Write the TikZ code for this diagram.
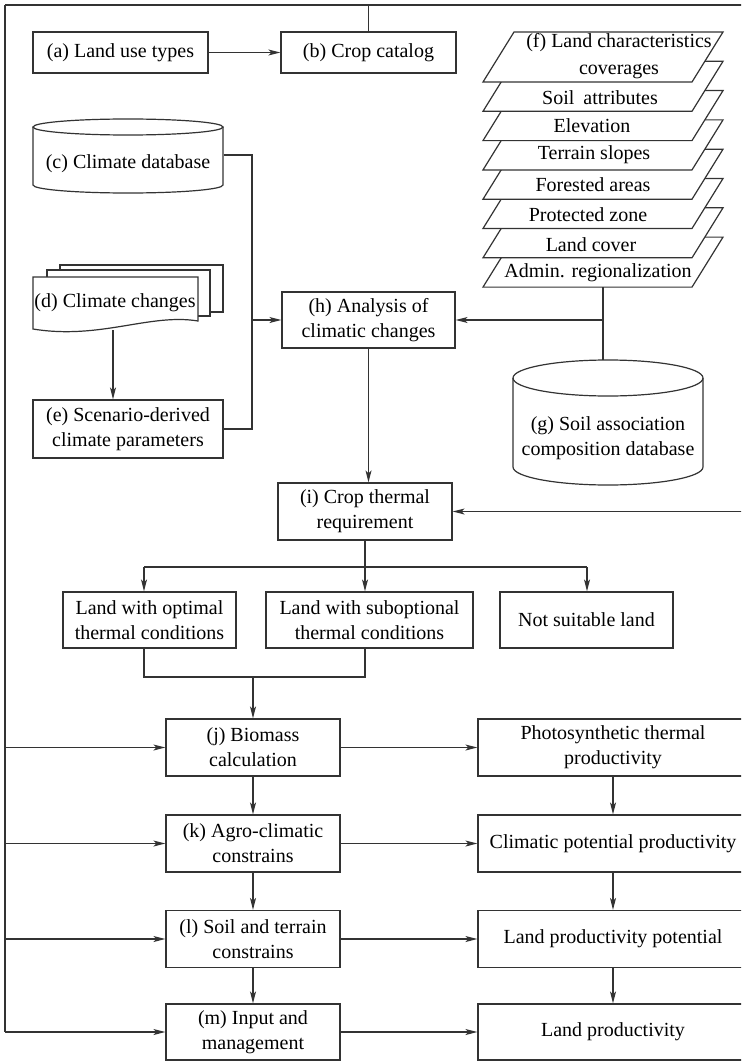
\documentclass[tikz,border=0pt]{standalone}
\usepackage{fontspec}
\setmainfont{Liberation Serif}
\usetikzlibrary{arrows.meta}
\begin{document}
\begin{tikzpicture}[x=1pt,y=-1pt,
  line width=1.2pt, color=black!80,
  every node/.style={text=black, font=\fontsize{20}{25}\selectfont, inner sep=0pt, align=center},
  box/.style={draw, fill=white, minimum height=57pt},
  arr/.style={-{Stealth[length=12pt,width=6pt,inset=3pt]}},
  layer/.style={draw, fill=white},
]
\useasboundingbox (0,0) rectangle (741,1062);
\fill[white] (0,0) rectangle (741,1062);
\clip (0,0) rectangle (741,1062);

% ---- top row
\node[box, minimum width=175pt, minimum height=41pt] (a) at (120.5,52.5) {(a) Land use types};
\node[box, minimum width=175pt, minimum height=41pt] (b) at (368.5,52.5) {(b) Crop catalog};

% ---- climate database (cylinder)
\draw[fill=white] (33,127) -- (33,185) arc[start angle=180,end angle=360,x radius=95pt,y radius=8pt] -- (223,127);
\draw (128,127) ellipse[x radius=95pt,y radius=8pt];
\node[minimum width=190pt, minimum height=58pt] (c) at (128,164) {(c) Climate database};

% ---- climate changes (stacked documents)
\draw[fill=white] (60,265) rectangle (223,312);
\draw[fill=white] (47,270) rectangle (210,316);
\draw[fill=white] (33,277) -- (198,277) -- (198,321) .. controls (150,313) and (100,340) .. (33,329) -- cycle;
\node[minimum width=165pt] (d) at (115,303) {(d) Climate changes};
\coordinate (db) at (113,330);

\node[box, minimum width=190pt, minimum height=58pt] (e) at (128,429) {(e) Scenario-derived\\climate parameters};

% ---- land characteristics layers
\foreach \k in {7,6,...,0} {
  \pgfmathsetmacro{\t}{32+29.3*\k}
  \path[layer] (483,\t+50) -- (692,\t+50) -- (723,\t) -- (514,\t) -- cycle;
}
\node[font=\fontsize{20}{27}\selectfont] (f0) at (619,56.5) {(f) Land characteristics\\coverages};
\node (f1) at (600,98) {Soil\hspace{0.45em}attributes};
\node (f2) at (592,126) {Elevation};
\node (f3) at (594,155) {Terrain slopes};
\node (f4) at (593,185) {Forested areas};
\node (f5) at (588,215) {Protected zone};
\node (f6) at (591,245) {Land cover};
\node (f7) at (598,273) {Admin. regionalization};
\coordinate (fb) at (603,287);
\coordinate (fh) at (603,320);
\coordinate (gt) at (603,360.1);

% ---- soil database (cylinder)
\draw[fill=white] (513,378) -- (513,467) arc[start angle=180,end angle=360,x radius=95pt,y radius=18pt] -- (703,378);
\draw (608,378) ellipse[x radius=95pt,y radius=18pt];
\node (g) at (608,438.5) {(g) Soil association\\composition database};

% ---- analysis and thermal requirement
\node[box, minimum width=173pt, minimum height=56pt] (h) at (368.5,320) {(h) Analysis of\\climatic changes};
\node[box, minimum width=174pt] (i) at (365,511.5) {(i) Crop thermal\\requirement};

\node[box, minimum width=173pt, minimum height=56pt] (o1) at (149.5,620) {Land with optimal\\thermal conditions};
\node[box, minimum width=207pt, minimum height=56pt] (o2) at (369.5,620) {Land with suboptional\\thermal conditions};
\node[box, minimum width=173pt, minimum height=56pt] (o3) at (586.5,620) {Not suitable land};

% ---- productivity chain
\node[box, minimum width=174pt] (j) at (253,747.5) {(j) Biomass\\calculation};
\node[box, minimum width=174pt] (k) at (253,843.5) {(k) Agro-climatic\\constrains};
\node[box, minimum width=174pt] (l) at (253,939) {(l) Soil and terrain\\constrains};
\node[box, minimum width=174pt, minimum height=56pt] (m) at (253,1032) {(m) Input and\\management};

\node[box, minimum width=270pt] (p1) at (613,747.5) {Photosynthetic thermal\\productivity};
\node[box, minimum width=270pt] (p2) at (613,843.5) {Climatic potential productivity};
\node[box, minimum width=270pt] (p3) at (613,939) {Land productivity potential};
\node[box, minimum width=270pt, minimum height=56pt] (p4) at (613,1032) {Land productivity};

% ---- frame lines
\coordinate (TL) at (5,5);
\coordinate (TR) at (770,5);
\coordinate (BL) at (5,1032);
\draw (TL) -- (TR);
\draw (b.north) -- (b.north |- TL);
\draw[arr] (TR) |- (i.east);
\draw (TL) -- (BL);
\draw[arr] (BL) -- (m.west);
\foreach \n in {j,k,l} \draw[arr] (TL |- \n.west) -- (\n.west);

% ---- connectors
\draw[arr] (a) -- (b);
\coordinate (mc) at (252,320);
\draw ([yshift=9pt]c.east) -| (mc);
\draw (e.east) -| (mc);
\draw[arr] (mc) -- (h.west);
\draw[arr] (db) -- (db |- e.north);
\draw (fb) -- (gt);
\draw[arr] (fh) -- (h.east);
\draw[arr] (h.south) -- (h.south |- i.north);

\coordinate (brL) at (144,567);
\coordinate (brR) at (587,567);
\draw[arr] (i.south) -- (i.south |- o2.north);
\draw (brL) -- (brR);
\draw[arr] (brL) -- (brL |- o1.north);
\draw[arr] (brR) -- (brR |- o3.north);

\coordinate (jn) at (253,677);
\draw (brL |- o1.south) -- (brL |- jn) -- (i.south |- jn) -- (i.south |- o2.south);
\draw[arr] (jn) -- (j.north);

\draw[arr] (j) -- (k);
\draw[arr] (k) -- (l);
\draw[arr] (l) -- (m);
\draw[arr] (p1) -- (p2);
\draw[arr] (p2) -- (p3);
\draw[arr] (p3) -- (p4);
\draw[arr] (j) -- (p1);
\draw[arr] (k) -- (p2);
\draw[arr] (l) -- (p3);
\draw[arr] (m) -- (p4);
\end{tikzpicture}
\end{document}
